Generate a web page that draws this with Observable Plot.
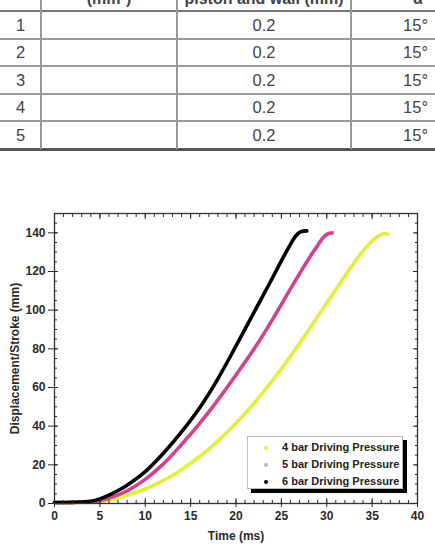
<!DOCTYPE html>
<html><head><meta charset="utf-8">
<script src="https://cdn.jsdelivr.net/npm/d3@7"></script>
<script src="https://cdn.jsdelivr.net/npm/@observablehq/plot@0.6"></script>
<style>
body{margin:0;background:#fff;font-family:"Liberation Sans",Arial,sans-serif;}
#wrap{position:relative;width:435px;height:545px;overflow:hidden;background:#fff;}
#tbl{position:absolute;left:0;top:0;width:435px;height:152px;overflow:hidden;color:#444;}
.ln{position:absolute;}
.tx{position:absolute;white-space:nowrap;line-height:1;}
#chart{position:absolute;left:0;top:200px;}
#legend{position:absolute;left:247px;top:436px;width:154px;height:51px;border:1px solid #bbb;background:#fff;box-shadow:4px 4px 0 #000;}
.li{position:absolute;left:0;width:154px;height:16px;}
.mk{position:absolute;left:16px;top:6px;width:4px;height:4px;border-radius:50%;}
.lt{position:absolute;left:34px;top:1px;font-size:11px;font-weight:bold;color:#222;white-space:nowrap;}
</style></head>
<body><div id="wrap"><div id="tbl"></div><div id="chart"></div><div id="legend"></div></div>
<script>
// ---- table fragment ----
const headers = ["", "(mm²)", "piston and wall (mm)", "α"];
const rowIds = [1, 2, 3, 4, 5];
const gapValues = ["0.2", "0.2", "0.2", "0.2", "0.2"];
const alphaValues = ["15°", "15°", "15°", "15°", "15°"];

// ---- chart data (Time ms, Displacement mm) ----
const t4 = [0, 2, 4, 5, 6, 7, 8, 10, 12, 14, 16, 18, 20, 22, 24, 26, 28, 30, 32, 34, 35, 35.8, 36.3, 36.7];
const d4 = [0.5, 0.5, 0.7, 1.0, 1.8, 2.9, 4.3, 7.5, 11.9, 17.5, 24.3, 32.3, 41.5, 51.9, 63.5, 76.1, 89.7, 103.7, 117.7, 130.7, 135.8, 138.7, 139.5, 139.3];
const t5 = [0, 2, 4, 5, 6, 7, 8, 10, 12, 14, 16, 18, 20, 22, 24, 26, 28, 29, 29.6, 30.1, 30.6];
const d5 = [0.5, 0.6, 1.0, 1.6, 2.8, 4.5, 6.5, 12.5, 20.5, 30.5, 41.5, 53.5, 66.5, 80, 95, 111, 126.5, 133.5, 137.5, 139.5, 140];
const t6 = [0, 2, 4, 5, 6, 7, 8, 10, 12, 14, 16, 18, 20, 22, 24, 25, 26, 26.6, 27.1, 27.8];
const d6 = [0.5, 0.6, 1.2, 2.4, 4.3, 6.7, 9.5, 16.5, 26, 37, 49.5, 64.5, 81.5, 99, 116.5, 125.5, 134, 138.5, 140.5, 141];
const seriesNames = ["4 bar Driving Pressure", "5 bar Driving Pressure", "6 bar Driving Pressure"];
const seriesColors = ["#e4ee3c", "#d4418f", "#000000"];
const legendMarkerColors = ["#e4ee3c", "#b8b8b8", "#000000"];
const xTicks = [0, 5, 10, 15, 20, 25, 30, 35, 40];
const yTicks = [0, 20, 40, 60, 80, 100, 120, 140];

// ---- build table ----
const tbl = document.getElementById("tbl");
const colX = [0, 41, 177, 351, 435];
const headBottom = 11, rowH = 27.6;
function addLine(x, y, w, h, c) {
  const d = document.createElement("div"); d.className = "ln";
  Object.assign(d.style, {left: x + "px", top: y + "px", width: w + "px", height: h + "px", background: c});
  tbl.appendChild(d);
}
function addText(txt, x, y, anchor, size, weight) {
  const d = document.createElement("div"); d.className = "tx"; d.textContent = txt;
  d.style.fontSize = size + "px"; d.style.fontWeight = weight || "normal";
  d.style.top = (y - size * 0.5) + "px";
  if (anchor === "middle") { d.style.left = x + "px"; d.style.transform = "translateX(-50%)"; }
  else if (anchor === "end") { d.style.right = (435 - x) + "px"; }
  else d.style.left = x + "px";
  tbl.appendChild(d);
}
// header (cropped at the top edge, as in the reference)
addText(headers[1], 109, -1.5, "middle", 16, "bold");
addText(headers[2], 264, -1.5, "middle", 16, "bold");
addText(headers[3], 418, -1.5, "middle", 16, "bold");
addLine(0, headBottom - 1, 435, 2, "#777");
rowIds.forEach((id, i) => {
  const cy = headBottom + rowH * (i + 0.5);
  addText(String(id), 20.5, cy, "middle", 16.5);
  addText(gapValues[i], 264, cy, "middle", 16.5);
  addText(alphaValues[i], 428, cy, "end", 16.5);
  if (i < rowIds.length - 1) addLine(0, headBottom + rowH * (i + 1) - 1, 435, 2, "#9a9a9a");
});
addLine(0, headBottom + rowH * rowIds.length - 1.5, 435, 3, "#555");
[1, 2, 3].forEach(j => addLine(colX[j] - 1, 0, 2, headBottom + rowH * rowIds.length, "#9a9a9a"));

// ---- chart ----
const rows = (t, d) => t.map((x, i) => ({t: x, d: d[i]}));
const s4 = rows(t4, d4), s5 = rows(t5, d5), s6 = rows(t6, d6);
const xMinor = d3.range(0, 41, 1);
const yMinor = d3.range(0, 151, 5);
const ink = "#2a2a2a";
const chart = Plot.plot({
  width: 435, height: 345,
  marginTop: 13, marginBottom: 42, marginLeft: 54, marginRight: 18,
  x: {domain: [0, 40]},
  y: {domain: [0, 150]},
  style: {fontFamily: "'Liberation Sans', Arial, sans-serif", fontSize: "12px", fontWeight: "bold", color: ink, background: "transparent"},
  marks: [
    Plot.line(s4, {x: "t", y: "d", stroke: seriesColors[0], strokeWidth: 3.6, curve: "catmull-rom"}),
    Plot.line(s5, {x: "t", y: "d", stroke: seriesColors[1], strokeWidth: 3.6, curve: "catmull-rom"}),
    Plot.line(s6, {x: "t", y: "d", stroke: seriesColors[2], strokeWidth: 3.6, curve: "catmull-rom"}),
    Plot.frame({stroke: "#333", strokeWidth: 1.3}),
    // bottom axis
    Plot.axisX(xTicks, {anchor: "bottom", tickSize: 4, tickPadding: 4, label: "Time (ms)", labelAnchor: "center", labelOffset: 36, labelArrow: "none"}),
    Plot.axisX(xTicks, {anchor: "bottom", tickSize: -5, fill: "none", label: null}),
    Plot.axisX(xMinor, {anchor: "bottom", tickSize: -3, fill: "none", label: null}),
    // top axis (inward ticks)
    Plot.axisX(xMinor, {anchor: "top", tickSize: -3, fill: "none", label: null}),
    Plot.axisX(xTicks, {anchor: "top", tickSize: -5, fill: "none", label: null}),
    // left axis
    Plot.axisY(yTicks, {anchor: "left", tickSize: 6, tickPadding: 3, label: "Displacement/Stroke (mm)", labelAnchor: "center", labelOffset: 44, labelArrow: "none"}),
    Plot.axisY(yTicks, {anchor: "left", tickSize: -4, fill: "none", label: null}),
    Plot.axisY(yMinor, {anchor: "left", tickSize: -3, fill: "none", label: null}),
    // right axis (inward ticks)
    Plot.axisY(yMinor, {anchor: "right", tickSize: -3, fill: "none", label: null}),
    Plot.axisY(yTicks, {anchor: "right", tickSize: -5, fill: "none", label: null})
  ]
});
document.getElementById("chart").appendChild(chart);

// ---- legend ----
const lg = document.getElementById("legend");
seriesNames.forEach((name, i) => {
  const r = document.createElement("div"); r.className = "li"; r.style.top = (3 + i * 16.8) + "px";
  const m = document.createElement("div"); m.className = "mk"; m.style.background = legendMarkerColors[i];
  const t = document.createElement("div"); t.className = "lt"; t.textContent = name;
  r.appendChild(m); r.appendChild(t); lg.appendChild(r);
});
</script></body></html>
